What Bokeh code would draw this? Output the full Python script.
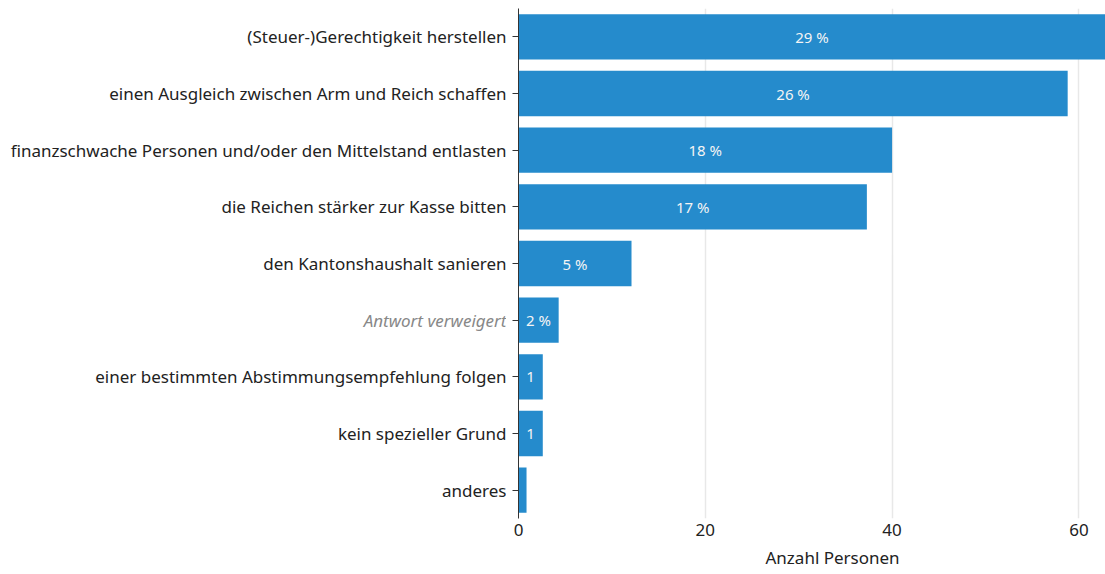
from bokeh.plotting import figure
from bokeh.layouts import row
from bokeh.models import ColumnDataSource, LabelSet, FixedTicker, Range1d, Title
from bokeh.core.properties import value
from bokeh.embed import file_html
from bokeh.resources import INLINE

categories = [
    "(Steuer-)Gerechtigkeit herstellen",
    "einen Ausgleich zwischen Arm und Reich schaffen",
    "finanzschwache Personen und/oder den Mittelstand entlasten",
    "die Reichen stärker zur Kasse bitten",
    "den Kantonshaushalt sanieren",
    "Antwort verweigert",
    "einer bestimmten Abstimmungsempfehlung folgen",
    "kein spezieller Grund",
    "anderes",
]
counts = [64.5, 58.8, 40.0, 37.3, 12.1, 4.3, 2.6, 2.6, 0.86]
bar_labels = ["29 %", "26 %", "18 %", "17 %", "5 %", "2 %", "1", "1", ""]
x_ticks = [0, 20, 40, 60]

FONT = "Noto Sans"
XMAX = 62.85
H = 574
BT, BB = 8, 56
LW = 506          # width of the label panel
RW = 1105 - LW    # width of the bar panel
AXB = 12          # room for y axis ticks

pos = list(range(len(categories)))
label_x = [min(c, XMAX) / 2 for c in counts]
cat_colors = ["#888888" if c == "Antwort verweigert" else "#222222" for c in categories]
cat_styles = ["italic" if c == "Antwort verweigert" else "normal" for c in categories]

src = ColumnDataSource(dict(y=pos, count=counts, lab=bar_labels, lx=label_x,
                            cat=categories, ccol=cat_colors, cstyle=cat_styles,
                            tx=[LW] * len(pos)))

yr = Range1d(len(pos) - 0.5, -0.5)

# ---- left panel with category labels
pl = figure(width=LW, height=H, output_backend="svg", toolbar_location=None,
            x_range=Range1d(0, LW), y_range=yr, x_axis_type=None, y_axis_type=None,
            min_border_left=0, min_border_right=0, min_border_top=BT,
            min_border_bottom=BB)
pl.outline_line_color = None
pl.grid.visible = False
pl.text(x="tx", y="y", text="cat", source=src, text_align="right",
        text_baseline="middle", text_font=value(FONT), text_font_size="17px",
        text_color="ccol", text_font_style="cstyle")

# ---- right panel with bars
p = figure(width=RW, height=H, output_backend="svg", toolbar_location=None,
           x_range=Range1d(0, XMAX), y_range=yr,
           min_border_left=AXB, min_border_right=0, min_border_top=BT,
           min_border_bottom=BB)
p.outline_line_color = None

p.hbar(y="y", left=0, right="count", height=0.8, source=src,
       fill_color="#258BCC", line_color=None)

p.add_layout(LabelSet(x="lx", y="y", text="lab", source=src,
                      text_align="center", text_baseline="middle",
                      text_font=value(FONT), text_font_size="15px",
                      text_color="#f4f4f4"))

p.yaxis.ticker = FixedTicker(ticks=pos)
p.yaxis.major_label_overrides = {i: "" for i in pos}
p.yaxis.major_label_text_font_size = "0px"
p.yaxis.major_label_standoff = 0
p.yaxis.axis_line_color = "#333333"
p.yaxis.major_tick_line_color = "#333333"
p.yaxis.major_tick_out = 6
p.yaxis.major_tick_in = 0
p.yaxis.minor_tick_line_color = None
p.ygrid.grid_line_color = None

p.xaxis.ticker = FixedTicker(ticks=x_ticks)
p.xaxis.axis_line_color = None
p.xaxis.major_tick_line_color = None
p.xaxis.minor_tick_line_color = None
p.xaxis.major_label_text_font = FONT
p.xaxis.major_label_text_font_size = "17px"
p.xaxis.major_label_text_color = "#222222"
p.xaxis.major_label_standoff = -1
p.xgrid.grid_line_color = "#e8e8e8"
p.xgrid.grid_line_width = 1.5

p.add_layout(Title(text="Anzahl Personen", align="left", offset=247,
                   text_font=FONT, text_font_size="17px", text_font_style="normal",
                   text_color="#222222", standoff=11), "below")

layout = row(pl, p, spacing=0)
open("out.html", "w").write(file_html(layout, INLINE))
